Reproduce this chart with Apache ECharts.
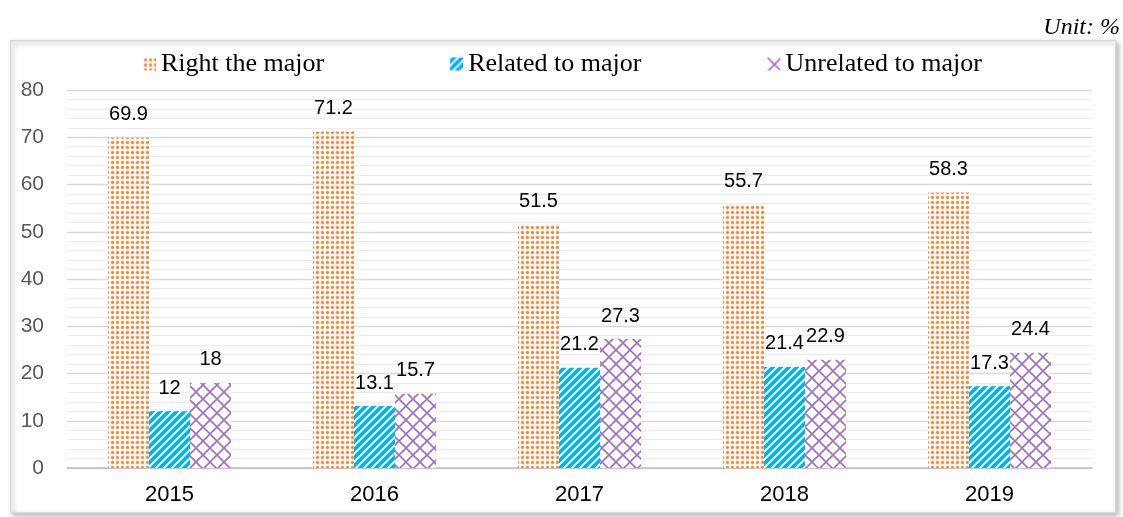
<!DOCTYPE html>
<html><head><meta charset="utf-8">
<script src="https://cdn.jsdelivr.net/npm/echarts@6/dist/echarts.min.js"></script>
<style>html,body{margin:0;padding:0;background:#fff}#c{width:1123px;height:517px}</style>
</head><body><div id="c"></div>
<script>
const categories = ['2015','2016','2017','2018','2019'];
const seriesNames = ['Right the major','Related to major','Unrelated to major'];
const rightMajor = [69.9, 71.2, 51.5, 55.7, 58.3];
const relatedMajor = [12, 13.1, 21.2, 21.4, 17.3];
const unrelatedMajor = [18, 15.7, 27.3, 22.9, 24.4];

function mk(w,h){const c=document.createElement('canvas');c.width=w;c.height=h;return c;}
function dotPattern(){
  const c=mk(5,5),x=c.getContext('2d');
  x.fillStyle='#fff';x.fillRect(0,0,5,5);
  x.fillStyle='#F7C29A';x.beginPath();x.arc(2.5,2.5,1.9,0,Math.PI*2);x.fill();
  x.fillStyle='#EE7F2D';x.beginPath();x.arc(2.5,2.5,1.2,0,Math.PI*2);x.fill();
  return {image:c,repeat:'repeat'};
}
function stripePattern(){
  const c=mk(8,8),x=c.getContext('2d');
  x.fillStyle='#00B0F0';x.fillRect(0,0,8,8);
  x.strokeStyle='#E6F7FD';x.lineWidth=2.2;
  x.beginPath();
  x.moveTo(-1,9);x.lineTo(9,-1);
  x.moveTo(-1,1);x.lineTo(1,-1);
  x.moveTo(7,9);x.lineTo(9,7);
  x.stroke();
  return {image:c,repeat:'repeat'};
}
function crossPattern(){
  const c=mk(14,14),x=c.getContext('2d');
  x.fillStyle='#fff';x.fillRect(0,0,14,14);
  x.strokeStyle='#A070C8';x.lineWidth=1.6;
  x.beginPath();
  x.moveTo(0,0);x.lineTo(14,14);
  x.moveTo(14,0);x.lineTo(0,14);
  x.stroke();
  return {image:c,repeat:'repeat'};
}
const patterns=[dotPattern(),stripePattern(),crossPattern()];
const values=[rightMajor,relatedMajor,unrelatedMajor];

const chart=echarts.init(document.getElementById('c'),null,{renderer:'canvas'});
chart.setOption({
  animation:false,
  backgroundColor:'#fff',
  graphic:[
    {type:'rect',left:10,top:40,z:-10,shape:{width:1105,height:472},
     style:{fill:'#fff',stroke:'#d9d9d9',lineWidth:1.5,shadowBlur:5,shadowOffsetX:2,shadowOffsetY:2,shadowColor:'rgba(0,0,0,0.3)'}},
    {type:'text',right:3,top:16,style:{text:'Unit: %',font:'italic 24px "Liberation Serif"',fill:'#000'}}
  ],
  legend:{
    left:138,top:46,itemWidth:13,itemHeight:13,itemGap:126,icon:'rect',
    textStyle:{fontFamily:'Liberation Serif',fontSize:26,color:'#000'},
    data:seriesNames
  },
  grid:{left:67,right:31,top:90,bottom:49,containLabel:false},
  xAxis:{
    type:'category',data:categories,
    axisLine:{lineStyle:{color:'#bfbfbf',width:1.5}},
    axisTick:{show:false},
    axisLabel:{fontFamily:'Liberation Sans',fontSize:22,color:'#000',margin:16}
  },
  yAxis:{
    type:'value',min:0,max:80,interval:10,
    axisLine:{show:false},axisTick:{show:false},
    axisLabel:{fontFamily:'Liberation Sans',fontSize:21,color:'#595959',margin:23},
    splitLine:{lineStyle:{color:'#d9d9d9',width:1.3}},
    minorSplitLine:{show:true,lineStyle:{color:'#ededed',width:1}},
    minorTick:{show:false,splitNumber:5}
  },
  series:values.map((v,i)=>({
    name:seriesNames[i],type:'bar',data:v,
    barGap:'0%',barCategoryGap:'40%',
    itemStyle:{color:patterns[i]},
    label:{show:true,position:'top',distance:13,fontFamily:'Liberation Sans',fontSize:20,color:'#000'}
  }))
});
</script></body></html>
